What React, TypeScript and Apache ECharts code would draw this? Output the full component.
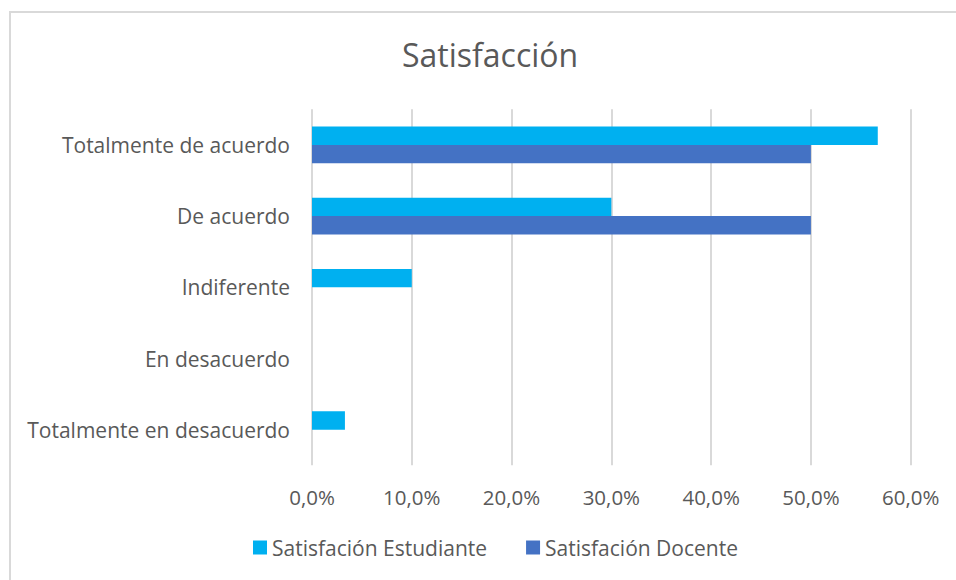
import React, { useEffect, useRef } from "react";
import * as echarts from "echarts";

const categories = [
  "Totalmente de acuerdo",
  "De acuerdo",
  "Indiferente",
  "En desacuerdo",
  "Totalmente en desacuerdo",
];
const estudiante = [56.7, 30.0, 10.0, 0, 3.3];
const docente = [50.0, 50.0, 0, 0, 0];
const seriesNames = ["Satisfación Estudiante", "Satisfación Docente"];
const titleText = "Satisfacción";

const FONT = "'Open Sans', sans-serif";
const GRAY = "#595959";

export default function App() {
  const ref = useRef<HTMLDivElement>(null);
  useEffect(() => {
    document.body.style.margin = "0";
    const chart = echarts.init(ref.current!, undefined, { renderer: "svg" });
    const fmt = (v: number) => v.toFixed(1).replace(".", ",") + "%";
    chart.setOption({
      animation: false,
      backgroundColor: "#ffffff",
      textStyle: { fontFamily: FONT },
      title: {
        text: titleText,
        left: 402,
        top: 38,
        padding: 0,
        textStyle: { fontFamily: FONT, fontSize: 32, fontWeight: "normal", color: GRAY },
      },
      graphic: [
        {
          type: "rect",
          shape: { x: 10, y: 12, width: 1000, height: 1000 },
          style: { fill: "none", stroke: "#D9D9D9", lineWidth: 2 },
          silent: true,
        },
      ],
      legend: {
        left: 253,
        top: 537,
        icon: "rect",
        itemWidth: 14,
        itemHeight: 14,
        itemGap: 39,
        padding: 0,
        textStyle: { fontFamily: FONT, fontSize: 21, color: GRAY },
        data: seriesNames,
      },
      grid: { left: 312, right: 45.3, top: 109.3, height: 356, containLabel: false },
      xAxis: {
        type: "value",
        min: 0,
        max: 60,
        interval: 10,
        axisLine: { show: false },
        axisTick: { show: false },
        splitLine: { lineStyle: { color: "#D9D9D9", width: 2 } },
        axisLabel: {
          formatter: fmt,
          fontFamily: FONT,
          fontSize: 20.5,
          color: GRAY,
          margin: 21,
        },
      },
      yAxis: {
        type: "category",
        inverse: true,
        data: categories,
        axisLine: { show: false },
        axisTick: { show: false },
        axisLabel: { fontFamily: FONT, fontSize: 21, color: GRAY, margin: 22 },
      },
      series: [
        {
          name: seriesNames[0],
          type: "bar",
          data: estudiante,
          itemStyle: { color: "#00B0F0" },
          barGap: "0%",
          barCategoryGap: "48.5%",
        },
        {
          name: seriesNames[1],
          type: "bar",
          data: docente,
          itemStyle: { color: "#4472C4" },
          barGap: "0%",
          barCategoryGap: "48.5%",
        },
      ],
    });
    return () => chart.dispose();
  }, []);
  return <div ref={ref} style={{ width: 956, height: 580 }} />;
}
